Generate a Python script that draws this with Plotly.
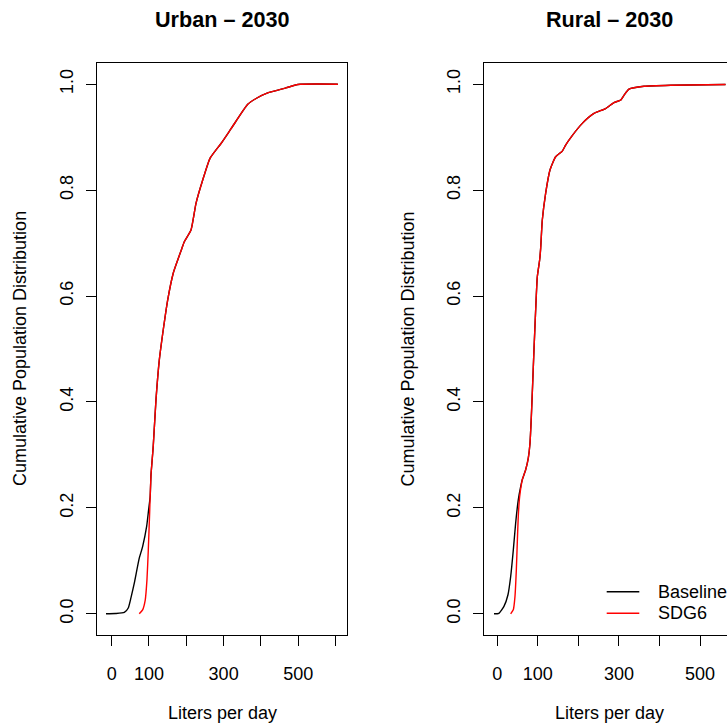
import plotly.graph_objects as go

# ---------------- data ----------------
urban_base_x = [-15, 10, 34, 44.5, 51.7, 60.7, 74, 83, 93.8, 99, 103.2, 105.4, 108.5, 111.6, 118.8,
                127.7, 139.4, 150, 165, 177, 187.7, 194.7, 212.6, 226, 244, 263.5, 293, 320,
                364.6, 386.9, 418, 467, 498.7, 606]
urban_base_y = [0, 0.0005, 0.0025, 0.011, 0.03, 0.058, 0.105, 0.127, 0.165, 0.196, 0.221, 0.262, 0.29,
                0.318, 0.404, 0.479, 0.542, 0.592, 0.643, 0.668, 0.689, 0.7025, 0.7245, 0.775,
                0.819, 0.86, 0.888, 0.916, 0.962, 0.973, 0.9836, 0.993, 0.9994, 1.0]

urban_sdg_x = [74, 83, 90, 94.6, 98.2, 101.8, 103.2, 105.4, 108.5, 111.6, 118.8,
               127.7, 139.4, 150, 165, 177, 187.7, 194.7, 212.6, 226, 244, 263.5, 293, 320,
               364.6, 386.9, 418, 467, 498.7, 606]
urban_sdg_y = [0, 0.0075, 0.026, 0.064, 0.12, 0.19, 0.221, 0.262, 0.29,
               0.318, 0.404, 0.479, 0.542, 0.592, 0.643, 0.668, 0.689, 0.7025, 0.7245, 0.775,
               0.819, 0.86, 0.888, 0.916, 0.962, 0.973, 0.9836, 0.993, 0.9994, 1.0]

rural_base_x = [-8, 4, 16.5, 26.4, 33, 39.5, 45.3, 51.8, 57.7, 62, 70, 76.5, 80.7, 84, 87.3, 90.5,
                94.7, 98.7, 104.5, 107, 111, 119.3, 130, 144, 160.4, 168.6, 182.6, 209.7, 238.5,
                267.3, 287.8, 304.3, 312.5, 324.9, 361.9, 427.7, 563]
rural_base_y = [0, 0.001, 0.014, 0.036, 0.07, 0.12, 0.171, 0.215, 0.24, 0.254, 0.272, 0.294, 0.322,
                0.372, 0.435, 0.498, 0.574, 0.636, 0.668, 0.69, 0.743, 0.794, 0.838, 0.863, 0.8736,
                0.885, 0.9006, 0.926, 0.9447, 0.954, 0.9654, 0.97, 0.979, 0.9906, 0.996, 0.998, 0.9995]

rural_sdg_x = [33, 39.5, 43.7, 47, 49.3, 51.8, 55.2, 60, 62, 70, 76.5, 80.7, 84, 87.3, 90.5,
               94.7, 98.7, 104.5, 107, 111, 119.3, 130, 144, 160.4, 168.6, 182.6, 209.7, 238.5,
               267.3, 287.8, 304.3, 312.5, 324.9, 361.9, 427.7, 563]
rural_sdg_y = [0, 0.0075, 0.033, 0.083, 0.133, 0.184, 0.221, 0.2466, 0.254, 0.272, 0.294, 0.322,
               0.372, 0.435, 0.498, 0.574, 0.636, 0.668, 0.69, 0.743, 0.794, 0.838, 0.863, 0.8736,
               0.885, 0.9006, 0.926, 0.9447, 0.954, 0.9654, 0.97, 0.979, 0.9906, 0.996, 0.998, 0.9995]

panel_titles = ["Urban \u2013 2030", "Rural \u2013 2030"]
series_names = ["Baseline", "SDG6"]
series_colors = ["black", "red"]
x_tickvals = [0, 100, 200, 300, 400, 500, 600]
x_ticktext = ["0", "100", "", "300", "", "500", ""]
y_tickvals = [0, 0.2, 0.4, 0.6, 0.8, 1.0]
y_ticktext = ["0.0", "0.2", "0.4", "0.6", "0.8", "1.0"]

# ---------------- figure ----------------
W = H = 727
FONT = "Liberation Sans, Arial, Helvetica, sans-serif"
fig = go.Figure()

def line_style(col):
    return dict(color=col, width=1.4, shape="spline", smoothing=0.5)

fig.add_trace(go.Scatter(x=urban_base_x, y=urban_base_y, mode="lines", name=series_names[0],
                         line=line_style(series_colors[0]), xaxis="x", yaxis="y", showlegend=False))
fig.add_trace(go.Scatter(x=urban_sdg_x, y=urban_sdg_y, mode="lines", name=series_names[1],
                         line=line_style(series_colors[1]), xaxis="x", yaxis="y", showlegend=False))
fig.add_trace(go.Scatter(x=rural_base_x, y=rural_base_y, mode="lines", name=series_names[0],
                         line=line_style(series_colors[0]), xaxis="x2", yaxis="y2", showlegend=False))
fig.add_trace(go.Scatter(x=rural_sdg_x, y=rural_sdg_y, mode="lines", name=series_names[1],
                         line=line_style(series_colors[1]), xaxis="x2", yaxis="y2", showlegend=False))

ydom = [1 - 635 / H, 1 - 63 / H]
common_x = dict(tickvals=x_tickvals, ticktext=x_ticktext, ticks="outside", ticklen=10, tickwidth=1,
                tickcolor="black", showline=True, linecolor="black", linewidth=1, mirror=True,
                showgrid=False, zeroline=False, tickfont=dict(size=18, color="black", family=FONT),
                ticklabelstandoff=12)
common_y = dict(tickvals=y_tickvals, ticktext=y_ticktext, ticks="outside", ticklen=10, tickwidth=1,
                tickcolor="black", showline=True, linecolor="black", linewidth=1,
                showgrid=False, zeroline=False, tickangle=-90, range=[-0.04, 1.04], domain=ydom,
                tickfont=dict(size=18, color="black", family=FONT), ticklabelstandoff=6)

fig.update_layout(
    width=W, height=H, margin=dict(l=0, r=0, t=0, b=0),
    paper_bgcolor="white", plot_bgcolor="white",
    font=dict(family=FONT, color="black", size=18),
    xaxis=dict(domain=[96.7 / W, 347 / W], range=[-40, 630.5], anchor="y", **common_x),
    yaxis=dict(anchor="x", mirror=True, **common_y),
    xaxis2=dict(domain=[484.3 / W, 1.0], range=[-32, 566.6], anchor="y2", **common_x),
    yaxis2=dict(anchor="x2", mirror=False, **common_y),
)

annotations = []
# panel titles
for cx, t in zip([222, 609.5], panel_titles):
    annotations.append(dict(x=cx / W, y=1 - 19 / H, xref="paper", yref="paper", text="<b>%s</b>" % t,
                            showarrow=False, xanchor="center", yanchor="middle",
                            font=dict(size=21.6, family=FONT, color="black")))
# axis titles
for cx in [222, 609.5]:
    annotations.append(dict(x=cx / W, y=1 - 713 / H, xref="paper", yref="paper", text="Liters per day",
                            showarrow=False, xanchor="center", yanchor="middle",
                            font=dict(size=18, family=FONT, color="black")))
for cx in [20, 407.6]:
    annotations.append(dict(x=cx / W, y=1 - 349 / H, xref="paper", yref="paper",
                            text="Cumulative Population Distribution", textangle=-90,
                            showarrow=False, xanchor="center", yanchor="middle",
                            font=dict(size=18, family=FONT, color="black")))
# legend
shapes = []
for ry, name, col in zip([591.7, 613.3], series_names, series_colors):
    shapes.append(dict(type="line", xref="paper", yref="paper", x0=606.7 / W, x1=639.3 / W,
                       y0=1 - ry / H, y1=1 - ry / H, line=dict(color=col, width=1.4)))
    annotations.append(dict(x=655.5 / W, y=1 - ry / H, xref="paper", yref="paper", text=name,
                            showarrow=False, xanchor="left", yanchor="middle",
                            font=dict(size=18, family=FONT, color="black")))

fig.update_layout(annotations=annotations, shapes=shapes)
fig.write_html("out.html")
